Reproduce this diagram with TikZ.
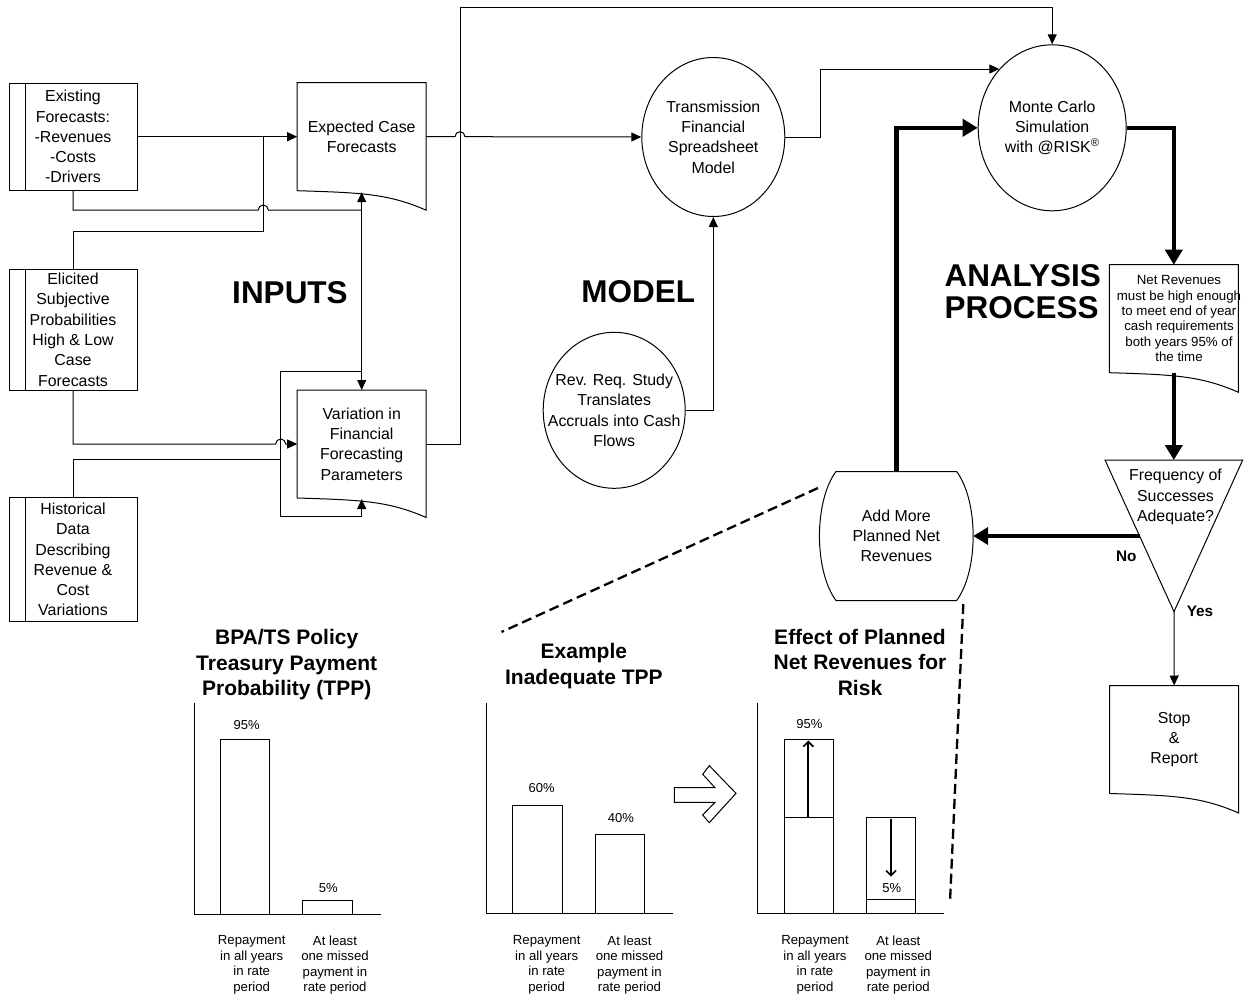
\documentclass[tikz,border=0pt]{standalone}
\usepackage{fontspec}
\setmainfont{Liberation Sans}
\usetikzlibrary{arrows.meta,shapes.geometric}
\begin{document}
\begin{tikzpicture}[x=1pt,y=-1pt,line width=1pt]
\tikzstyle{every node}+=[inner sep=0pt]
\tikzstyle{txt}=[font=\fontsize{15.9}{20.3}\selectfont,align=center]
\tikzstyle{proc}=[txt,draw,rectangle,minimum width=128]
\tikzstyle{doc}=[txt,rectangle,minimum width=128,minimum height=107]
\tikzstyle{oval}=[draw,ellipse]
\tikzstyle{flow}=[-{Triangle[length=10pt,width=9pt]}]
\tikzstyle{bigflow}=[line width=4.5pt,-{Triangle[length=15pt,width=17pt]}]
\tikzstyle{dashline}=[line width=2.3pt,dash pattern=on 10pt off 5pt]
\tikzstyle{big}=[font=\fontsize{31.5}{32}\selectfont\bfseries]
\tikzstyle{ttl}=[font=\fontsize{21}{25.5}\selectfont\bfseries,align=center]
\tikzstyle{lbl}=[font=\fontsize{13.2}{15.6}\selectfont,align=center]
\tikzstyle{pct}=[font=\fontsize{13}{15}\selectfont]
\tikzstyle{yn}=[font=\fontsize{15.3}{18}\selectfont\bfseries]
\useasboundingbox (0,0) rectangle (1254,999);
\node[proc,minimum height=107] (exist) at (73,136.7) {Existing\\Forecasts:\\-Revenues\\-Costs\\-Drivers};
\node[proc,minimum height=121] (elic) at (73,329.7) {Elicited\\Subjective\\Probabilities\\High \& Low\\Case\\Forecasts};
\node[proc,minimum height=124] (hist) at (73,559.5) {Historical\\Data\\Describing\\Revenue \&\\Cost\\Variations};
\foreach \n in {exist,elic,hist}
  \draw ([xshift=17]\n.north west) -- ([xshift=17]\n.south west);
\node[doc] (expc) at (361.7,136.7) {Expected Case\\Forecasts};
\node[doc] (vary) at (361.7,444) {Variation in\\Financial\\Forecasting\\Parameters};
\node[doc] (netrev) at (1173.8,318.7) {};
\node[font=\fontsize{13.3}{15.4}\selectfont,align=center] (netrevtxt) at (1179,318.7) {Net Revenues\\must be high enough\\to meet end of year\\cash requirements\\both years 95\% of\\the time};
\node[doc] (stop) at (1174.2,739.5) {Stop\\\&\\Report};
\foreach \n in {expc,vary,netrev,stop}
  \draw (\n.south west) -- (\n.north west) -- (\n.north east) -- ([yshift=-19.5]\n.south east)
    .. controls ([xshift=-38,yshift=-3]\n.south east) and ([xshift=-64,yshift=-2]\n.south east) .. (\n.south west);
\node[oval,minimum width=143,minimum height=159,label={[txt]center:{Transmission\\Financial\\Spreadsheet\\Model}}] (tran) at (713.3,137) {};
\node[oval,minimum width=142,minimum height=156,label={[txt]center:{Rev. Req. Study\\Translates\\Accruals into Cash\\Flows}}] (rev) at (614.2,410.3) {};
\node[oval,minimum width=148,minimum height=166,label={[txt]center:{Monte Carlo\\Simulation\\with @RISK\textsuperscript{\textregistered}}}] (mc) at (1052.2,127.8) {};
\node[txt,minimum width=152.7,minimum height=128] (addmore) at (896.3,536) {Add More\\Planned Net\\Revenues};
\draw ([xshift=16.5]addmore.north west) -- ([xshift=-16.5]addmore.north east)
  .. controls ([xshift=5.5,yshift=-30]addmore.north east) and ([xshift=5.5,yshift=30]addmore.south east) .. ([xshift=-16.5]addmore.south east)
  -- ([xshift=16.5]addmore.south west)
  .. controls ([xshift=-5.5,yshift=30]addmore.south west) and ([xshift=-5.5,yshift=-30]addmore.north west) .. cycle;
\coordinate (fq-tl) at (1105,460);
\coordinate (fq-tr) at (1242.7,460);
\coordinate (fq-apex) at (1174,611.7);
\coordinate (fq-top) at (1173.8,460);
\coordinate (fq-left) at (1139.6,536);
\draw (fq-tl) -- (fq-tr) -- (fq-apex) -- cycle;
\node[txt] (freq) at (1175.5,497) {Frequency of\\Successes\\Adequate?};
\draw (290,293) node[big] (inputs) {INPUTS};
\draw (638.3,292) node[big] (model) {MODEL};
\draw (944,292) node[big,align=left,anchor=west] (analysis) {ANALYSIS\\PROCESS};
\draw[flow] (exist.east) -- (expc.west);
\draw (exist.south) |- (258.3,210) arc[start angle=180,end angle=0,radius=5pt] -- (361.7,210);
\draw (elic.north) |- (263.3,231.7) -- (263.3,136.7);
\draw[flow] (elic.south) |- (275.7,444) arc[start angle=180,end angle=0,radius=5pt] -- (vary.west);
\draw (hist.north) |- (280.7,459);
\draw[flow] (361.7,371) -| (280.7,516) -| ([yshift=-1]vary.south);
\draw[{Triangle[length=10pt,width=9pt]}-{Triangle[length=10pt,width=9pt]}] ([yshift=-1.5]expc.south) -- (vary.north);
\draw[flow] (expc.east) -- (455,136.7) arc[start angle=180,end angle=0,radius=5pt] -- (tran.west);
\draw[flow] (vary.east) -| (460,7.3) -| (mc.north);
\draw[flow] (rev.east) -| (tran.south);
\draw[flow] (tran.east) -- (820,137) |- (mc.132);
\draw[bigflow] (addmore.north) |- (mc.west);
\draw[bigflow] (mc.east) -| (netrev.north);
\draw[bigflow] (netrev.south) -- (fq-top);
\draw[bigflow] (fq-left) -- (addmore.east);
\draw[flow] (fq-apex) -- (stop.north);
\draw (1126.3,556.7) node[yn] (no) {No};
\draw (1200,611.7) node[yn] (yes) {Yes};
\coordinate (dash1a) at (818,488);
\coordinate (dash1b) at (501.5,632);
\coordinate (dash2a) at (963.3,604);
\coordinate (dash2b) at (950,902);
\draw[dashline] (dash1a) -- (dash1b);
\draw[dashline] (dash2a) -- (dash2b);
\draw (286.7,665) node[ttl] (ttl1) {BPA/TS Policy\\Treasury Payment\\Probability (TPP)};
\draw (194,703.3) -- (194,914) -- (381,914);
\draw (220.3,914) rectangle (269.3,739.3);
\draw (302.3,914) rectangle (352,900);
\draw (246.7,724.7) node[pct] (c1p95) {95\%};
\draw (328.3,888.3) node[pct] (c1p5) {5\%};
\draw (251.7,965) node[lbl] (c1rep) {Repayment\\in all years\\in rate\\period};
\draw (335,965) node[lbl] (c1miss) {At least\\one missed\\payment in\\rate period};
\draw (583.9,666) node[ttl] (ttl2) {Example\\Inadequate TPP};
\draw (486,703.3) -- (486,913.3) -- (672.7,913.3);
\draw (512.7,913.3) rectangle (562.3,805);
\draw (595,913.3) rectangle (644.3,834);
\draw (541.7,788.3) node[pct] (c2p60) {60\%};
\draw (621,817.8) node[pct] (c2p40) {40\%};
\draw (546.7,965) node[lbl] (c2rep) {Repayment\\in all years\\in rate\\period};
\draw (629.5,965) node[lbl] (c2miss) {At least\\one missed\\payment in\\rate period};
\draw (674.3,787.7) -- (715,787.7) -- (702.7,774.3) -- (709.3,765.7) -- (736,793.3) -- (709.3,822.7) -- (702.7,815) -- (715,802.3) -- (674.3,802.3) -- cycle;
\draw (860,662.4) node[ttl] (ttl3) {Effect of Planned\\Net Revenues for\\Risk};
\draw (757.7,703.3) -- (757.7,913.3) -- (944,913.3);
\draw (784.3,913.3) rectangle (833.3,739);
\draw (784.3,817.7) -- (834.3,817.7);
\draw (866.7,913.3) rectangle (915.5,817.7);
\draw (866.7,899.3) -- (915.5,899.3);
\draw[line width=1.7pt,-{Straight Barb[length=5pt,width=10pt]}] (808.3,817.7) -- (808.3,740.5);
\draw[line width=1.7pt,-{Straight Barb[length=5pt,width=10pt]}] (891,819.3) -- (891,876.7);
\draw (809.3,724.3) node[pct] (c3p95) {95\%};
\draw (891.7,888.3) node[pct] (c3p5) {5\%};
\draw (815,965) node[lbl] (c3rep) {Repayment\\in all years\\in rate\\period};
\draw (898.3,965) node[lbl] (c3miss) {At least\\one missed\\payment in\\rate period};
\end{tikzpicture}
\end{document}
